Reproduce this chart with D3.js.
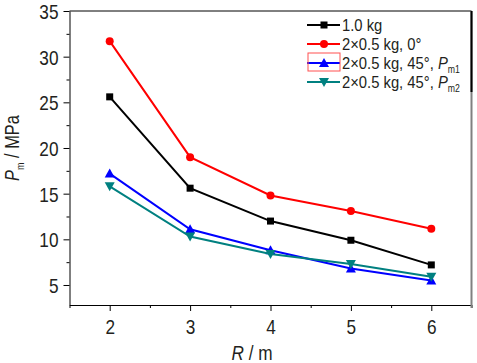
<!DOCTYPE html>
<html>
<head>
<meta charset="utf-8">
<script src="https://cdn.jsdelivr.net/npm/d3@7"></script>
<style>
  body { margin: 0; background: #fff; }
  svg { display: block; }
  text { font-family: "Liberation Sans", Arial, sans-serif; fill: #231f20; }
</style>
</head>
<body>
<div id="chart"></div>
<script>
// Data
const radii = [2, 3, 4, 5, 6];
const oneKg = [25.6, 15.6, 12.0, 9.9, 7.2];
const twoHalfZero = [31.7, 19.0, 14.8, 13.1, 11.15];
const twoHalf45Pm1 = [17.2, 11.1, 8.8, 6.8, 5.5];
const twoHalf45Pm2 = [15.8, 10.3, 8.4, 7.3, 5.9];
const xTicks = [2, 3, 4, 5, 6];
const yTicks = [5, 10, 15, 20, 25, 30, 35];

const series = [
    { name: "1.0 kg", values: oneKg, color: "#000000", marker: "square" },
    { name: "2×0.5 kg, 0°", values: twoHalfZero, color: "#ff0000", marker: "circle" },
    { name: "2×0.5 kg, 45°, ", sub: "m1", values: twoHalf45Pm1, color: "#0000ff", marker: "up" },
    { name: "2×0.5 kg, 45°, ", sub: "m2", values: twoHalf45Pm2, color: "#008080", marker: "down" }
];

const width = 477, height = 363;
const plotLeft = 69.5, plotRight = 471.5, plotTop = 11, plotBottom = 305;
const squeeze = 0.82; // the reference uses a narrow face

const svg = d3.select('#chart').append('svg')
    .attr('width', width)
    .attr('height', height);

const x = d3.scaleLinear().domain([1.5, 6.5]).range([plotLeft, plotRight]);
const y = d3.scaleLinear().domain([2.81, 35]).range([plotBottom, plotTop]);

// axes
const xAxis = svg.append('g').attr('transform', `translate(0,${plotBottom})`)
    .call(d3.axisBottom(x).tickValues(xTicks).tickFormat(d3.format('d')).tickSize(6).tickSizeOuter(0));
svg.append('g').attr('transform', `translate(0,${plotBottom})`)
    .call(d3.axisBottom(x).tickValues(d3.range(1.5, 6.6, 1)).tickFormat('').tickSize(3).tickSizeOuter(0))
    .select('.domain').remove();

const yAxis = svg.append('g').attr('transform', `translate(${plotLeft},0)`)
    .call(d3.axisLeft(y).tickValues(yTicks).tickSize(6).tickSizeOuter(0));
svg.append('g').attr('transform', `translate(${plotLeft},0)`)
    .call(d3.axisLeft(y).tickValues(d3.range(7.5, 35, 5)).tickFormat('').tickSize(3).tickSizeOuter(0))
    .select('.domain').remove();

svg.selectAll('.tick line').attr('stroke', '#000');
svg.selectAll('.domain').attr('stroke', '#000');
xAxis.selectAll('.tick text').attr('font-size', 21).attr('dy', '1.05em').attr('y', 7)
    .attr('transform', `scale(${squeeze},1)`);
yAxis.selectAll('.tick text').attr('font-size', 21).attr('x', -11 / squeeze).attr('dy', '0.36em')
    .attr('transform', `scale(${squeeze},1)`);

// frame top and right
svg.append('line').attr('x1', plotLeft).attr('x2', plotRight).attr('y1', plotTop).attr('y2', plotTop)
    .attr('stroke', '#000').attr('stroke-width', 1);
svg.append('line').attr('x1', plotRight).attr('x2', plotRight).attr('y1', plotTop).attr('y2', plotBottom + 3)
    .attr('stroke', '#808080').attr('stroke-width', 2);
svg.append('line').attr('x1', plotRight).attr('x2', plotRight).attr('y1', plotTop).attr('y2', 92)
    .attr('stroke', '#000').attr('stroke-width', 2);

// axis titles
const yt = svg.append('text')
    .attr('transform', `translate(19,148) rotate(-90) scale(${squeeze},1)`)
    .attr('text-anchor', 'middle')
    .attr('font-size', 20);
yt.append('tspan').attr('font-style', 'italic').text('P');
yt.append('tspan').attr('font-size', 11).attr('dy', 5).text('m');
yt.append('tspan').attr('dy', -5).text(' / MPa');

const xt = svg.append('text')
    .attr('transform', `translate(252,360) scale(${squeeze},1)`)
    .attr('text-anchor', 'middle')
    .attr('font-size', 21);
xt.append('tspan').attr('font-style', 'italic').text('R');
xt.append('tspan').text(' / m');

function drawMarker(g, type, cx, cy, color) {
    if (type === 'square') {
        g.append('rect').attr('x', cx - 3.5).attr('y', cy - 3.5).attr('width', 7).attr('height', 7).attr('fill', color);
    } else if (type === 'circle') {
        g.append('circle').attr('cx', cx).attr('cy', cy).attr('r', 4).attr('fill', color);
    } else {
        const s = type === 'up' ? 1 : -1;
        g.append('path')
            .attr('d', `M${cx},${cy - 5 * s}L${cx + 5},${cy + 4 * s}L${cx - 5},${cy + 4 * s}Z`)
            .attr('fill', color);
    }
}

const line = d3.line().x((d, i) => x(radii[i])).y(d => y(d));

series.forEach(s => {
    const g = svg.append('g');
    g.append('path').datum(s.values)
        .attr('d', line)
        .attr('fill', 'none')
        .attr('stroke', s.color)
        .attr('stroke-width', 2);
    s.values.forEach((v, i) => drawMarker(g, s.marker, x(radii[i]), y(v), s.color));
});

// legend
const legend = svg.append('g');
series.forEach((s, i) => {
    const ly = 25 + i * 19;
    legend.append('line').attr('x1', 307).attr('x2', 340).attr('y1', ly).attr('y2', ly)
        .attr('stroke', s.color).attr('stroke-width', 2);
    drawMarker(legend, s.marker, 324, ly, s.color);
    const t = legend.append('text')
        .attr('transform', `translate(342,${ly}) scale(0.87,1)`)
        .attr('dy', '0.36em').attr('font-size', 17);
    t.append('tspan').text(s.name);
    if (s.sub) {
        t.append('tspan').attr('font-style', 'italic').text('P');
        t.append('tspan').attr('font-size', 10).attr('dy', 4).text(s.sub);
    }
});
// red box round the third legend sample, as in the reference
legend.append('rect').attr('x', 308).attr('y', 53).attr('width', 32).attr('height', 18)
    .attr('fill', 'none').attr('stroke', '#ff5050').attr('stroke-width', 1);
</script>
</body>
</html>
